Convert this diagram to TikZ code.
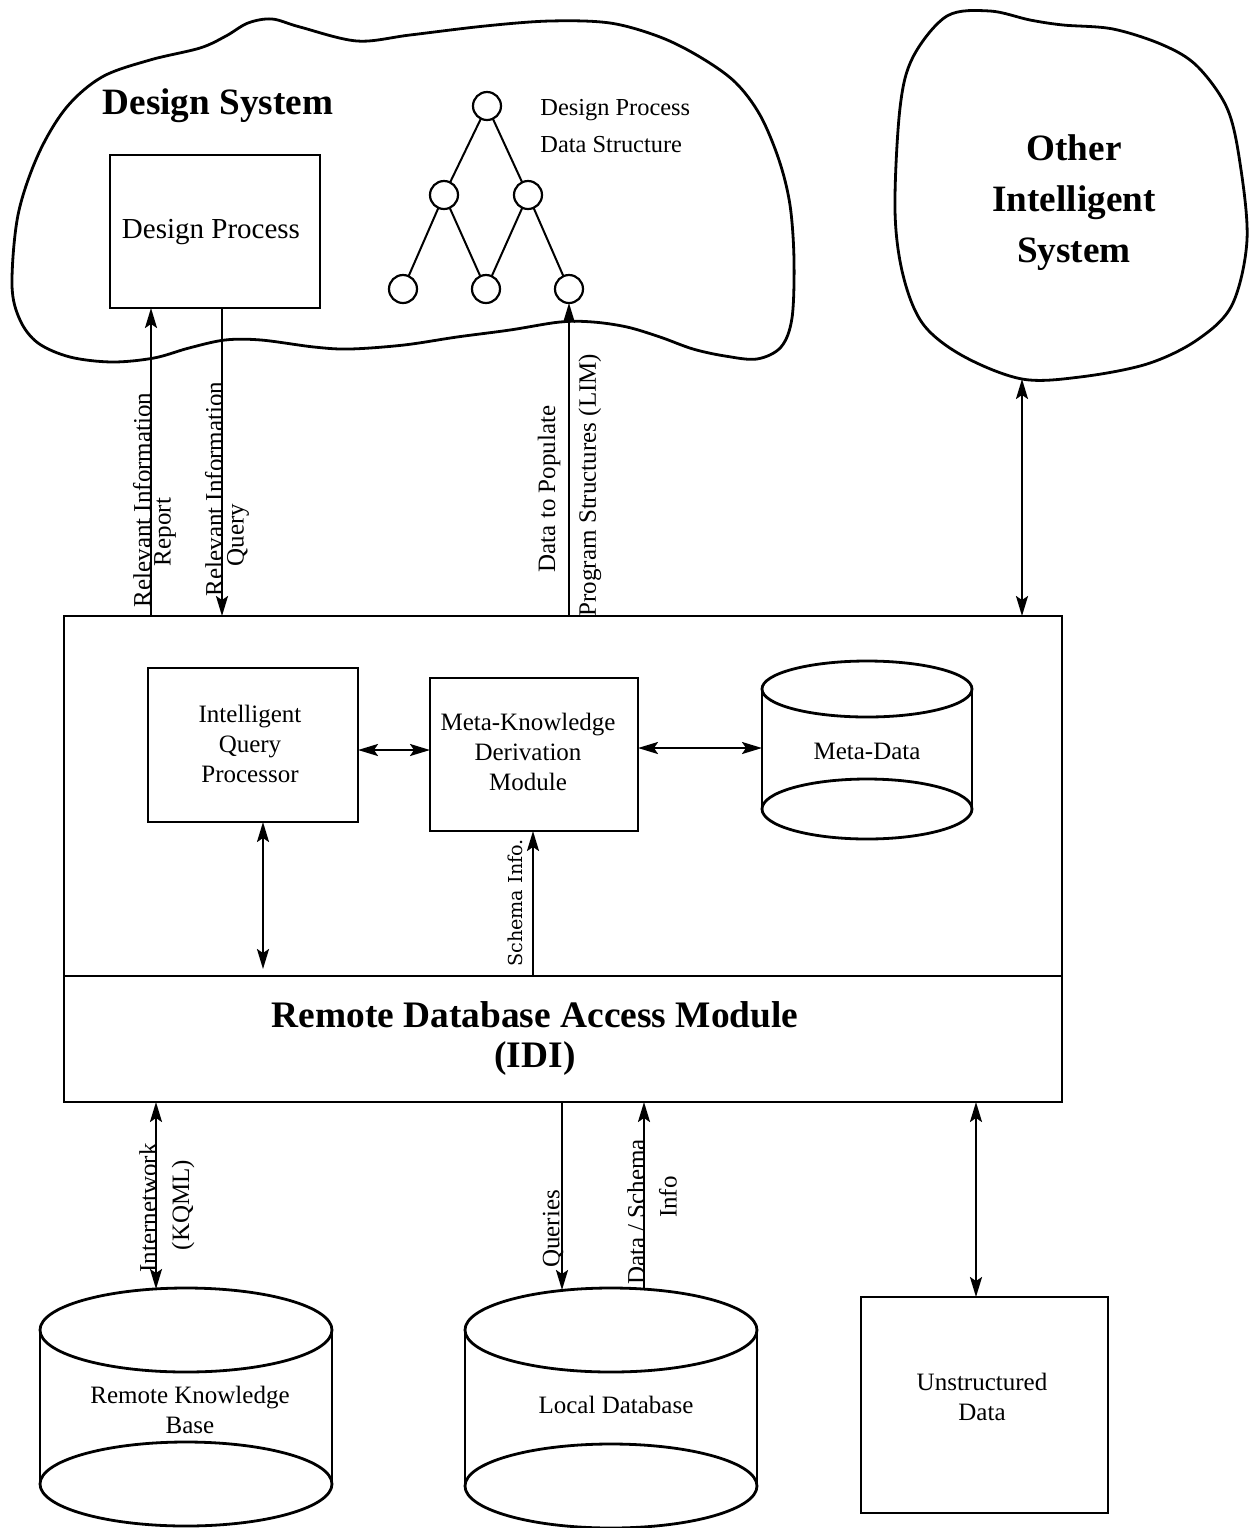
\documentclass[tikz,border=0pt]{standalone}
\usepackage{fontspec}
\setmainfont{Liberation Serif}
\newfontfamily\widefont{DejaVu Serif}
\usetikzlibrary{arrows.meta}

\newcommand\txtnorm{\fontsize{12.5}{15}\selectfont}
\newcommand\txtbox{\fontsize{14.5}{17}\selectfont}
\newcommand\txttitle{\fontsize{18.6}{25.5}\selectfont\bfseries}

\tikzset{
  box/.style={draw, line width=1.4pt, inner sep=0pt, outer sep=0pt},
  body/.style={inner sep=0pt, outer sep=0pt},
  shape line/.style={line width=1.4pt},
  cloudline/.style={line width=1.4pt},
  treenode/.style={draw, circle, line width=1.1pt, minimum size=14pt, inner sep=0pt, outer sep=0pt},
  treeedge/.style={line width=1pt},
  tip/.tip={Stealth[length=10pt,width=6pt,inset=2pt]},
  arr/.style={line width=1.1pt, -tip},
  darr/.style={line width=1.1pt, tip-tip},
  lab/.style={font=\txtnorm, inner sep=0pt, align=center},
  vlab/.style={font=\txtnorm, inner sep=0pt, rotate=90, align=center},
}

\begin{document}
\begin{tikzpicture}[x=0.5pt,y=-0.5pt]
\useasboundingbox (0,0) rectangle (1253,1528);

% ---------- Design System cloud ----------
\draw[cloudline] plot[smooth cycle, tension=0.55] coordinates {
  (12,285) (18,215) (38,155) (66,108) (102,77) (150,60) (200,48) (226,36)
  (248,23) (272,19) (300,27) (357,41) (410,35) (485,26) (550,21) (610,23)
  (660,37) (700,57) (735,82) (760,115) (779,160) (790,205) (794,260)
  (792,318) (781,347) (757,359) (725,356) (693,349) (660,337) (627,327)
  (593,322) (560,322) (510,330) (457,337) (404,345) (350,349) (314,347)
  (261,340) (225,340) (189,348) (154,358) (112,362) (70,357) (38,343) (20,320)};
\node[font=\txttitle, inner sep=0pt] (dstitle) at (218,106) {Design System};

\node[box, minimum width=105pt, minimum height=76.5pt] (dp) at (215,231.5) {};
\node[font=\txtbox, inner sep=0pt] (dplabel) at (211,232) {Design Process};

% process data structure tree
\node[treenode] (t1) at (487,106) {};
\node[treenode] (t2) at (444,195) {};
\node[treenode] (t3) at (528,195) {};
\node[treenode] (t4) at (403,289) {};
\node[treenode] (t5) at (486,289) {};
\node[treenode] (t6) at (569,289) {};
\draw[treeedge] (t1) -- (t2);
\draw[treeedge] (t1) -- (t3);
\draw[treeedge] (t2) -- (t4);
\draw[treeedge] (t2) -- (t5);
\draw[treeedge] (t3) -- (t5);
\draw[treeedge] (t3) -- (t6);
\node[font=\fontsize{12.2}{18.5}\selectfont, inner sep=0pt, align=left, anchor=west]
  (dslabel) at (540,126) {Design Process\\Data Structure};

% ---------- Other Intelligent System cloud ----------
\draw[cloudline] plot[smooth cycle, tension=0.55] coordinates {
  (900,108) (913,57) (947,16) (990,11) (1030,20) (1063,25) (1113,29)
  (1163,45) (1197,66) (1227,108) (1240,163) (1247,240) (1232,305)
  (1197,340) (1147,364) (1080,377) (1022,379) (963,356) (923,324)
  (903,275) (895,210)};
\node[font=\txttitle, inner sep=0pt, align=center] (ois) at (1074,203)
  {Other\\Intelligent\\System};
\coordinate (oisfoot) at (1022,379);

% ---------- central module ----------
\node[box, minimum width=499pt, minimum height=180pt] (idm) at (563,796) {};
\node[box, minimum width=499pt, minimum height=63pt] (rdam) at (563,1039) {};
\node[inner sep=0pt, align=center, font=\fontsize{18.7}{20}\selectfont\bfseries]
  (rdamlabel) at (535,1038) {Remote Database Access Module\\(IDI)};

\node[box, minimum width=105pt, minimum height=77pt] (iqp) at (253,745) {};
\node[lab] (iqplabel) at (250,744) {Intelligent\\Query\\Processor};

\node[box, minimum width=104pt, minimum height=76.5pt] (mkd) at (534,754.5) {};
\node[lab] (mkdlabel) at (528,752) {Meta-Knowledge\\Derivation\\Module};

% meta-data store
\node[body, minimum width=105pt, minimum height=60pt] (md) at (867,749) {};
\draw[shape line] (md.north) ellipse [x radius=52.5pt, y radius=14pt];
\draw[shape line] (md.south) ellipse [x radius=52.5pt, y radius=15pt];
\draw[shape line] (md.north west) -- (md.south west);
\draw[shape line] (md.north east) -- (md.south east);
\node[lab] (mdlabel) at (867,751) {Meta-Data};

% ---------- lower stores ----------
\node[body, minimum width=146pt, minimum height=77pt] (rkb) at (186,1407) {};
\draw[shape line] (rkb.north) ellipse [x radius=73pt, y radius=21pt];
\draw[shape line] (rkb.south) ellipse [x radius=73pt, y radius=21pt];
\draw[shape line] (rkb.north west) -- (rkb.south west);
\draw[shape line] (rkb.north east) -- (rkb.south east);
\node[lab] (rkblabel) at (190,1410) {Remote Knowledge\\Base};
\coordinate (rkbin) at (156,1289);

\node[body, minimum width=146pt, minimum height=78pt] (ldb) at (611,1408) {};
\draw[shape line] (ldb.north) ellipse [x radius=73pt, y radius=21pt];
\draw[shape line] (ldb.south) ellipse [x radius=73pt, y radius=21pt];
\draw[shape line] (ldb.north west) -- (ldb.south west);
\draw[shape line] (ldb.north east) -- (ldb.south east);
\node[lab] (ldblabel) at (616,1405) {Local Database};
\coordinate (ldbq) at (562,1290);
\coordinate (ldbd) at (644,1289);

\node[box, minimum width=123.5pt, minimum height=108pt] (ud) at (984.5,1405) {};
\node[lab] (udlabel) at (982,1397) {Unstructured\\Data};

% ---------- connector columns ----------
\coordinate (cRep) at (151,0);
\coordinate (cQry) at (222,0);
\coordinate (cIqp) at (263,0);
\coordinate (cSch) at (533,0);
\coordinate (cUd) at (976,0);
\coordinate (rowA) at (0,750);
\coordinate (rowB) at (0,748);

% ---------- connectors ----------
\draw[arr] (idm.north -| cRep) -- (dp.south -| cRep);
\draw[arr] (dp.south -| cQry) -- (idm.north -| cQry);
\draw[arr] (idm.north -| t6.south) -- (t6.south);
\draw[darr] (idm.north -| oisfoot) -- (oisfoot);

\draw[darr] (iqp.east |- rowA) -- (mkd.west |- rowA);
\draw[darr] (mkd.east |- rowB) -- (md.west |- rowB);
\draw[darr, shorten >=3.5pt] (iqp.south -| cIqp) -- (rdam.north -| cIqp);
\draw[arr] (rdam.north -| cSch) -- (mkd.south -| cSch);

\draw[darr] (rdam.south -| rkbin) -- (rkbin);
\draw[arr] (rdam.south -| ldbq) -- (ldbq);
\draw[arr] (ldbd) -- (rdam.south -| ldbd);
\draw[darr] (rdam.south -| cUd) -- (ud.north -| cUd);

% ---------- connector labels ----------
\node[vlab] (l1a) at (142,500) {Relevant Information};
\node[vlab] (l1b) at (165,532) {Report};
\node[vlab] (l2a) at (214,489) {Relevant Information};
\node[vlab] (l2b) at (238,535) {Query};
\node[vlab] (l3a) at (549,489) {Data to Populate};
\node[vlab] (l3b) at (590,485) {Program Structures (LIM)};
\node[vlab, font=\widefont\fontsize{9.6}{12}\selectfont] (l4) at (515,903) {Schema Info.};
\node[vlab] (l5a) at (148,1208) {Internetwork};
\node[vlab] (l5b) at (183,1205) {(KQML)};
\node[vlab] (l6) at (553,1229) {Queries};
\node[vlab] (l7a) at (636,1212) {Data / Schema};
\node[vlab] (l7b) at (668,1197) {Info};
\end{tikzpicture}
\end{document}
